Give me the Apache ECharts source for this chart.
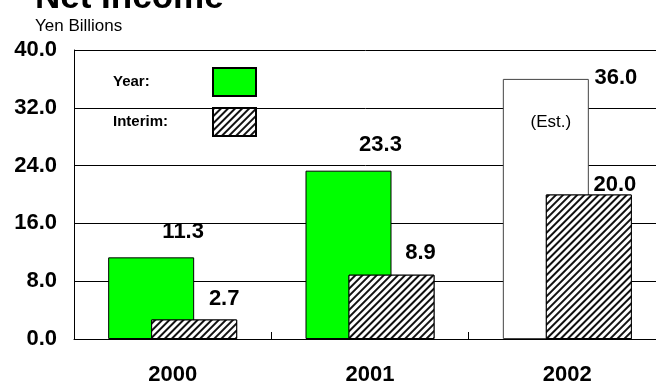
<!DOCTYPE html>
<html>
<head>
<meta charset="utf-8">
<script src="https://cdn.jsdelivr.net/npm/echarts@6/dist/echarts.min.js"></script>
<style>
  html, body { margin: 0; padding: 0; background: #fff; }
  #chart { width: 656px; height: 383px; }
</style>
</head>
<body>
<div id="chart"></div>
<script>
const years = ['2000', '2001', '2002'];
const yearValues = [11.3, 23.3, 36.0];
const interimValues = [2.7, 8.9, 20.0];
const yTicks = [0, 8, 40];   // min, interval, max

// label nudges (pixels), the original has hand-placed labels
const yearLabelOffsets = [[32, -14], [32, -15], [70, 10]];
const interimLabelOffsets = [[30, -10], [29, -11], [26, 1]];

const FONT = 'Arial, "Liberation Sans", Helvetica, sans-serif';

const hatch = {
    symbol: 'rect',
    color: '#111',
    backgroundColor: '#fff',
    dashArrayX: [1, 0],
    dashArrayY: [2, 2.5],
    rotation: -Math.PI / 4
};

const chart = echarts.init(document.getElementById('chart'), null, { renderer: 'canvas' });

const valueLabel = {
    show: true,
    position: 'top',
    distance: 0,
    color: '#000',
    fontFamily: FONT,
    fontWeight: 'bold',
    fontSize: 22,
    formatter: (p) => p.value.toFixed(1)
};

chart.setOption({
    animation: false,
    aria: { enabled: true, decal: { show: false } },
    title: [
        {
            text: 'Net Income',
            left: 30, top: -24,
            textStyle: { fontFamily: FONT, fontWeight: 'bold', fontSize: 35, color: '#000' }
        },
        {
            text: 'Yen Billions',
            left: 30, top: 13,
            textStyle: { fontFamily: FONT, fontWeight: 'normal', fontSize: 17, color: '#000' }
        }
    ],
    legend: {
        orient: 'vertical',
        left: 108, top: 62,
        align: 'right',
        icon: 'rect',
        itemWidth: 43,
        itemHeight: 28,
        itemGap: 10,
        selectedMode: false,
        data: ['Year:', 'Interim:'],
        formatter: (name) => '{a|' + name + '}',
        textStyle: {
            rich: { a: { width: 95, align: 'left', fontFamily: FONT, fontWeight: 'bold', fontSize: 15, color: '#000' } }
        }
    },
    grid: { left: 74, top: 50, width: 592, bottom: 44, containLabel: false, outerBoundsMode: 'none' },
    xAxis: {
        type: 'category',
        data: years,
        axisLine: { lineStyle: { color: '#000', width: 1 } },
        axisTick: { show: true, inside: true, length: 7, lineStyle: { color: '#000' } },
        axisLabel: { margin: 25, color: '#000', fontFamily: FONT, fontWeight: 'bold', fontSize: 22 }
    },
    yAxis: {
        type: 'value',
        min: yTicks[0], max: yTicks[2], interval: yTicks[1],
        axisLine: { show: true, lineStyle: { color: '#000', width: 1 } },
        axisTick: { show: false },
        splitLine: { lineStyle: { color: '#000', width: 1 } },
        axisLabel: {
            margin: 17, color: '#000', fontFamily: FONT, fontWeight: 'bold', fontSize: 22,
            formatter: (v) => v.toFixed(1)
        }
    },
    series: [
        {
            name: 'Year:',
            type: 'bar',
            barWidth: 86,
            barGap: '-50%',
            itemStyle: { color: '#00ff00', borderColor: '#000', borderWidth: 1 },
            label: valueLabel,
            data: yearValues.map((v, i) => {
                const item = { value: v, label: { offset: yearLabelOffsets[i] } };
                if (i === 2) item.itemStyle = { color: '#fff', borderColor: '#444' };
                return item;
            }),
            markPoint: {
                symbol: 'rect',
                symbolSize: 0,
                data: [{ coord: [2, yearValues[2]], value: yearValues[2] }],
                label: {
                    show: true,
                    position: 'inside',
                    offset: [5, 43],
                    formatter: '(Est.)',
                    color: '#000',
                    fontFamily: FONT,
                    fontSize: 17
                }
            }
        },
        {
            name: 'Interim:',
            type: 'bar',
            barWidth: 86,
            barGap: '-50%',
            itemStyle: { color: '#fff', borderColor: '#000', borderWidth: 1, decal: hatch },
            label: valueLabel,
            data: interimValues.map((v, i) => ({ value: v, label: { offset: interimLabelOffsets[i] } }))
        }
    ]
});
</script>
</body>
</html>
